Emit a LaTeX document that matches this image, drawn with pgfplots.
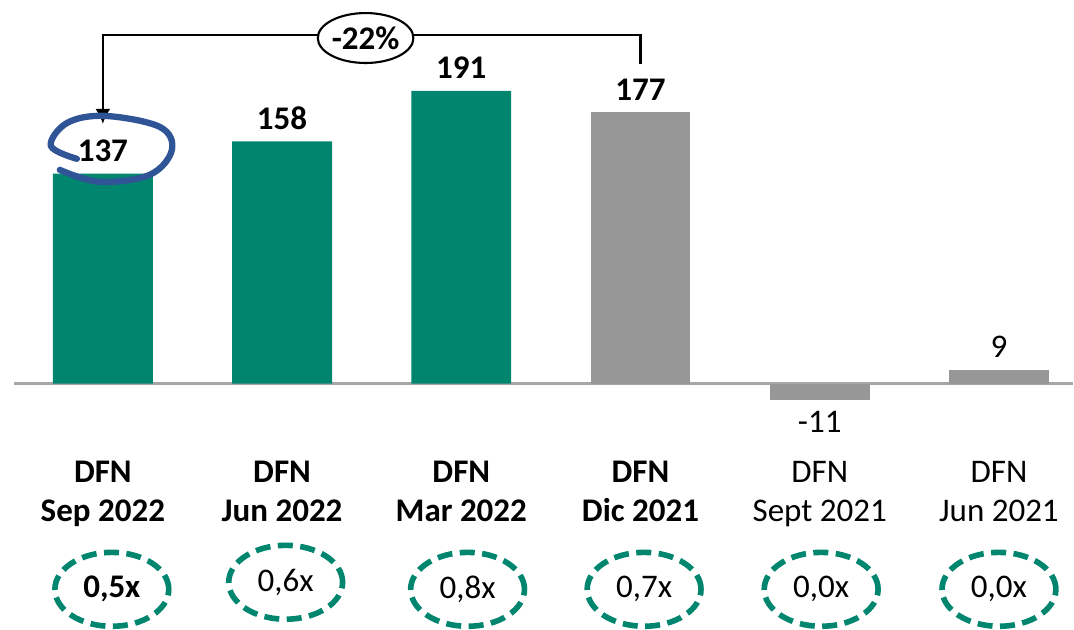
\documentclass[border=0pt]{standalone}
\usepackage{fontspec}
\setmainfont{Carlito}
\usepackage{pgfplots}
\pgfplotsset{compat=1.18}
\usetikzlibrary{shapes.geometric,arrows.meta}
\definecolor{dfngreen}{HTML}{00856F}
\definecolor{dfngrey}{HTML}{979797}
\definecolor{loopblue}{HTML}{2F5597}
\definecolor{axisgrey}{HTML}{A6A6A6}
\tikzset{
  lbl/.style={anchor=base, inner sep=0pt, yshift=0.12cm},
  ratio/.style={ellipse, draw=dfngreen, line width=1.6pt,
    dash pattern=on 0.15cm off 0.075cm, minimum width=1.14cm,
    minimum height=0.74cm, inner sep=0pt},
}

\begin{document}
\fontsize{9.4}{11.1}\selectfont
\begin{tikzpicture}
\begin{axis}[
  scale only axis, width=10.74cm, height=6.23cm,
  xmin=-0.574, xmax=5.412, ymin=-155.7, ymax=250.2,
  hide axis, clip=false,
  /pgf/number format/assume math mode=true,
  ybar, bar width=1cm,
]
\path (rel axis cs:0,0) rectangle (rel axis cs:1,1);
\draw[axisgrey, line width=0.7pt] (axis cs:-0.496,0) -- (axis cs:5.412,0);

% DFN actual (verde)
\addplot[bar shift=0pt, fill=dfngreen, draw=none, nodes near coords,
  every node near coord/.append style={lbl, font=\bfseries}]
  coordinates {(0,137) (1,158) (2,191)};
% Dic 2021
\addplot[bar shift=0pt, fill=dfngrey, draw=none, nodes near coords,
  every node near coord/.append style={lbl, font=\bfseries}]
  coordinates {(3,177)};
% Jun 2021
\addplot[bar shift=0pt, fill=dfngrey, draw=none, nodes near coords,
  every node near coord/.append style={lbl}]
  coordinates {(5,9)};
% Sept 2021
\addplot[bar shift=0pt, fill=dfngrey, draw=none, nodes near coords={-11},
  every node near coord/.append style={anchor=base, inner sep=0pt, yshift=-0.32cm}]
  coordinates {(4,-11)};

% categorias
\node[anchor=base] at (axis cs:0,-64.5) {\textbf{DFN}};
\node[anchor=base] at (axis cs:0,-89.9) {\textbf{Sep 2022}};
\node[anchor=base] at (axis cs:1,-64.5) {\textbf{DFN}};
\node[anchor=base] at (axis cs:1,-89.9) {\textbf{Jun 2022}};
\node[anchor=base] at (axis cs:2,-64.5) {\textbf{DFN}};
\node[anchor=base] at (axis cs:2,-89.9) {\textbf{Mar 2022}};
\node[anchor=base] at (axis cs:3,-64.5) {\textbf{DFN}};
\node[anchor=base] at (axis cs:3,-89.9) {\textbf{Dic 2021}};
\node[anchor=base] at (axis cs:4,-64.5) {DFN};
\node[anchor=base] at (axis cs:4,-89.9) {Sept 2021};
\node[anchor=base] at (axis cs:5,-64.5) {DFN};
\node[anchor=base] at (axis cs:5,-89.9) {Jun 2021};

% multiplos
\node[ratio] at (axis cs:0.05,-134.2) {\textbf{0,5x}};
\node[ratio] at (axis cs:1.02,-129.6) {0,6x};
\node[ratio] at (axis cs:2.035,-134.2) {0,8x};
\node[ratio] at (axis cs:3.02,-134.2) {0,7x};
\node[ratio] at (axis cs:4.008,-134.2) {0,0x};
\node[ratio] at (axis cs:5.0,-134.2) {0,0x};

% variacion
\draw[line width=0.6pt, -{Latex[length=0.15cm,width=0.15cm]}]
  (axis cs:3,208.5) -- (axis cs:3,227.4) -- (axis cs:0,227.4) -- (axis cs:0,169.4);
\node[ellipse, draw, fill=white, line width=0.6pt, minimum width=0.86cm,
  minimum height=0.5cm, inner sep=0pt] at (axis cs:1.466,225.4) {\textbf{-22\%}};

\draw[loopblue, line width=1.8pt, line cap=round] plot[smooth, tension=0.6] coordinates {
  (axis cs:-0.145,146.6) (axis cs:-0.290,155.0) (axis cs:-0.200,170.0)
  (axis cs:0.011,174.6) (axis cs:0.318,167.4) (axis cs:0.385,152.4)
  (axis cs:0.262,136.2) (axis cs:-0.017,131.6) (axis cs:-0.240,139.4)};
\end{axis}
\end{tikzpicture}
\end{document}
